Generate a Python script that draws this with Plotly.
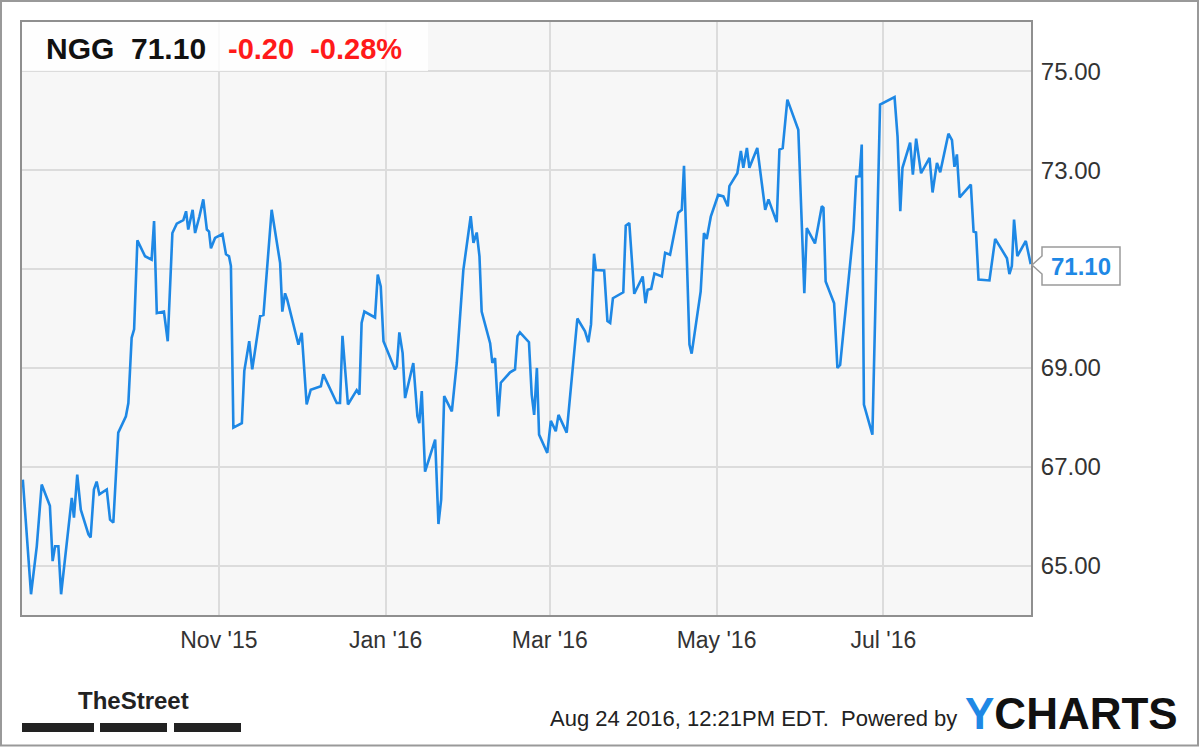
import pandas as pd
import plotly.graph_objects as go

# ---- data ----
start_date = "2015-08-21"
day_offsets = [
    0.3, 3.3, 5.4, 7.2, 10.2, 11.2, 12.1, 13.3, 14.3, 18.2, 19.0, 20.2, 21.5, 24.3, 25.1,
    26.3, 27.3, 28.3, 31.0, 32.2, 33.4, 35.2, 38.0, 38.9, 40.1, 41.0, 42.2, 45.0, 47.4,
    48.3, 49.3, 51.9, 53.3, 55.0, 56.6, 59.0, 60.0, 60.8, 62.4, 63.3, 64.9, 66.3, 67.6,
    68.4, 69.1, 70.6, 73.3, 74.6, 75.7, 76.4, 77.3, 80.4, 81.3, 83.1, 84.2, 87.1, 88.3,
    91.3, 94.4, 95.2, 96.2, 97.0, 101.1, 102.3, 104.1, 105.6, 109.3, 110.2, 115.1, 116.3,
    117.2, 119.2, 122.4, 123.4, 124.2, 125.2, 129.1, 130.1, 131.2, 132.2, 136.4, 137.1,
    138.0, 139.2, 140.1, 143.1, 144.6, 145.3, 146.2, 147.4, 151.1, 152.3, 153.3, 154.4,
    157.2, 159.0, 161.4, 164.1, 165.1, 166.3, 167.3, 168.1, 171.2, 172.0, 173.0, 174.2,
    175.1, 178.5, 180.3, 181.2, 182.1, 185.4, 186.4, 187.3, 188.3, 189.1, 192.1, 193.4,
    195.2, 196.2, 199.2, 203.1, 205.9, 207.1, 208.1, 209.2, 209.9, 212.9, 214.1, 215.1,
    216.1, 219.9, 220.8, 222.1, 223.9, 227.0, 228.0, 228.8, 230.1, 231.3, 234.0, 235.2,
    237.0, 240.0, 241.3, 242.1, 244.1, 244.9, 248.2, 249.4, 250.4, 251.9, 254.6, 256.5,
    258.1, 258.7, 261.6, 262.9, 263.8, 265.1, 266.0, 268.9, 271.8, 273.0, 276.0, 277.0,
    278.2, 279.9, 283.9, 286.1, 287.0, 290.0, 292.5, 293.1, 293.9, 297.0, 298.2, 299.2,
    304.1, 305.1, 306.3, 307.1, 307.9, 311.0, 313.8, 319.1, 320.2, 321.2, 322.0, 324.8,
    325.8, 327.0, 328.8, 331.9, 333.0, 334.6, 335.8, 338.8, 340.1, 341.0, 341.9, 342.9,
    347.0, 348.0, 348.9, 349.8, 353.8, 355.9, 360.2, 361.1, 362.0, 362.8, 364.0, 367.1,
    368.9,
]
prices = [
    66.74, 64.42, 65.39, 66.64, 66.21, 65.09, 65.39, 65.39, 64.42, 66.37, 65.97, 66.84, 66.13, 65.63, 65.57,
    66.54, 66.70, 66.44, 66.54, 65.93, 65.87, 67.69, 68.02, 68.29, 69.61, 69.78, 71.58, 71.26, 71.19,
    71.97, 70.11, 70.14, 69.54, 71.73, 71.92, 71.99, 72.17, 71.80, 72.20, 71.73, 72.07, 72.41, 71.80,
    71.76, 71.42, 71.63, 71.71, 71.30, 71.26, 71.06, 67.79, 67.88, 68.94, 69.54, 68.97, 70.05, 70.07,
    72.20, 71.12, 70.14, 70.51, 70.38, 69.47, 69.71, 68.26, 68.56, 68.63, 68.87, 68.29, 68.29,
    69.65, 68.26, 68.55, 68.46, 69.91, 70.14, 70.02, 70.89, 70.65, 69.54, 68.97, 69.03,
    69.72, 69.30, 68.39, 69.10, 68.02, 67.88, 68.53, 66.90, 67.55, 65.84, 66.34, 68.43,
    68.12, 69.10, 70.98, 72.07, 71.53, 71.74, 71.26, 70.14, 69.50, 69.10, 69.20, 68.02,
    68.70, 68.91, 68.97, 69.64, 69.72, 69.52, 68.46, 68.05, 69.00, 67.65, 67.28, 67.93,
    67.72, 68.05, 67.69, 70.00, 69.74, 69.52, 69.88, 71.31, 70.98, 70.97, 69.95, 69.91,
    70.41, 70.53, 71.88, 71.93, 70.50, 70.85, 70.31, 70.58, 70.60, 70.91, 70.85, 71.33,
    71.29, 72.14, 72.20, 73.09, 69.47, 69.29, 70.55, 71.73, 71.61, 72.06, 72.50, 72.47,
    72.27, 72.68, 72.94, 73.39, 73.05, 73.45, 73.05, 73.45, 72.20, 72.41, 71.95, 73.42,
    73.45, 74.43, 73.82, 70.51, 71.83, 71.52, 72.27, 72.24, 70.75, 70.31, 69.00, 69.06,
    71.80, 72.87, 72.88, 73.52, 68.26, 67.65, 74.33, 74.48, 73.68, 72.17, 73.05, 73.56,
    72.91, 73.64, 72.94, 73.25, 72.55, 73.15, 72.96, 73.74, 73.61, 73.07, 73.32, 72.45,
    72.71, 71.76, 71.74, 70.79, 70.77, 71.61, 71.22, 70.90, 71.06, 72.00, 71.26, 71.57,
    71.10,
]
ytick_values = [65, 67, 69, 71, 73, 75]
ytick_labels = ["65.00", "67.00", "69.00", "", "73.00", "75.00"]  # 71.00 hidden behind the callout
xtick_dates = ["2015-11-01", "2016-01-01", "2016-03-01", "2016-05-01", "2016-07-01"]
xtick_labels = ["Nov '15", "Jan '16", "Mar '16", "May '16", "Jul '16"]
ticker = "NGG"
last_price = "71.10"
change = "-0.20"
change_pct = "-0.28%"
timestamp = "Aug 24 2016, 12:21PM EDT.  Powered by"

dates = pd.Timestamp(start_date) + pd.to_timedelta(day_offsets, unit="D")

# ---- layout geometry (pixels) ----
W, H = 1200, 747
L, R, T, B = 22, 1031, 22, 615


def px(x):
    return (x - L) / (R - L)


def py(y):
    return (B - y) / (B - T)


FONT = "Liberation Sans, Arial, sans-serif"
BLUE = "#1e88e5"

fig = go.Figure()
fig.add_trace(go.Scatter(x=dates, y=prices, mode="lines",
                         line=dict(color=BLUE, width=2.6), hoverinfo="x+y"))

shapes = []
# header box
shapes.append(dict(type="rect", xref="paper", yref="paper", x0=px(22), x1=px(428), y0=py(71), y1=py(22),
                   fillcolor="rgba(255,255,255,0.82)", line=dict(width=0), layer="above"))
# last-value callout
path = "M {} {} L {} {} L {} {} L {} {} L {} {} L {} {} L {} {} Z".format(
    px(1032), py(265), px(1042), py(256), px(1042), py(247), px(1120), py(247),
    px(1120), py(285), px(1042), py(285), px(1042), py(274))
shapes.append(dict(type="path", xref="paper", yref="paper", path=path, fillcolor="white",
                   line=dict(color="#9a9a9a", width=1.5), layer="above"))
# TheStreet bars
for x0, x1 in [(22, 94), (100, 167), (174, 241)]:
    shapes.append(dict(type="rect", xref="paper", yref="paper", x0=px(x0), x1=px(x1), y0=py(732), y1=py(723),
                       fillcolor="#222222", line=dict(width=0)))
# outer frame
shapes.append(dict(type="rect", xref="paper", yref="paper", x0=px(1), x1=px(1198), y0=py(745.5), y1=py(1),
                   fillcolor="rgba(0,0,0,0)", line=dict(color="#999999", width=2)))

annotations = [
    dict(text="<b>{}  {}</b>".format(ticker, last_price), x=px(44), y=py(49), xanchor="left", yanchor="middle",
         font=dict(family=FONT, size=30, color="#111111")),
    dict(text="<b>{}  {}</b>".format(change, change_pct), x=px(226), y=py(49), xanchor="left", yanchor="middle",
         font=dict(family=FONT, size=29, color="#ff1a1a")),
    dict(text="<b>{}</b>".format(last_price), x=px(1081), y=py(266), xanchor="center", yanchor="middle",
         font=dict(family=FONT, size=24, color=BLUE)),
    dict(text="<b>TheStreet</b>", x=px(76), y=py(700), xanchor="left", yanchor="middle",
         font=dict(family=FONT, size=24, color="#222222")),
    dict(text=timestamp, x=px(959), y=py(718), xanchor="right", yanchor="middle",
         font=dict(family=FONT, size=22, color="#222222")),
    dict(text="<b><span style='color:#1e88e5'>Y</span>CHARTS</b>", x=px(963), y=py(713), xanchor="left",
         yanchor="middle", font=dict(family=FONT, size=44, color="#111111")),
]
for a in annotations:
    a.update(xref="paper", yref="paper", showarrow=False)

fig.update_layout(
    width=W, height=H,
    margin=dict(l=L, r=W - R, t=T, b=H - B, pad=0),
    paper_bgcolor="white", plot_bgcolor="#f7f7f7",
    showlegend=False,
    shapes=shapes, annotations=annotations,
    xaxis=dict(range=[start_date, "2016-08-24"], tickvals=xtick_dates, ticktext=xtick_labels,
               showgrid=True, gridcolor="#dcdcdc", gridwidth=1.5, zeroline=False,
               showline=True, linecolor="#8f8f8f", linewidth=2, mirror=True,
               ticks="outside", ticklen=3, tickcolor="rgba(0,0,0,0)",
               tickfont=dict(family=FONT, size=23, color="#333333")),
    yaxis=dict(range=[64, 76], side="right", tickvals=ytick_values, ticktext=ytick_labels,
               showgrid=True, gridcolor="#dcdcdc", gridwidth=1.5, zeroline=False,
               showline=True, linecolor="#8f8f8f", linewidth=2, mirror=True,
               ticks="outside", ticklen=3, tickcolor="rgba(0,0,0,0)",
               tickfont=dict(family=FONT, size=24, color="#333333")),
)

fig.write_html("out.html", config={"displayModeBar": False},
               post_script="document.body.style.margin='0px';")
